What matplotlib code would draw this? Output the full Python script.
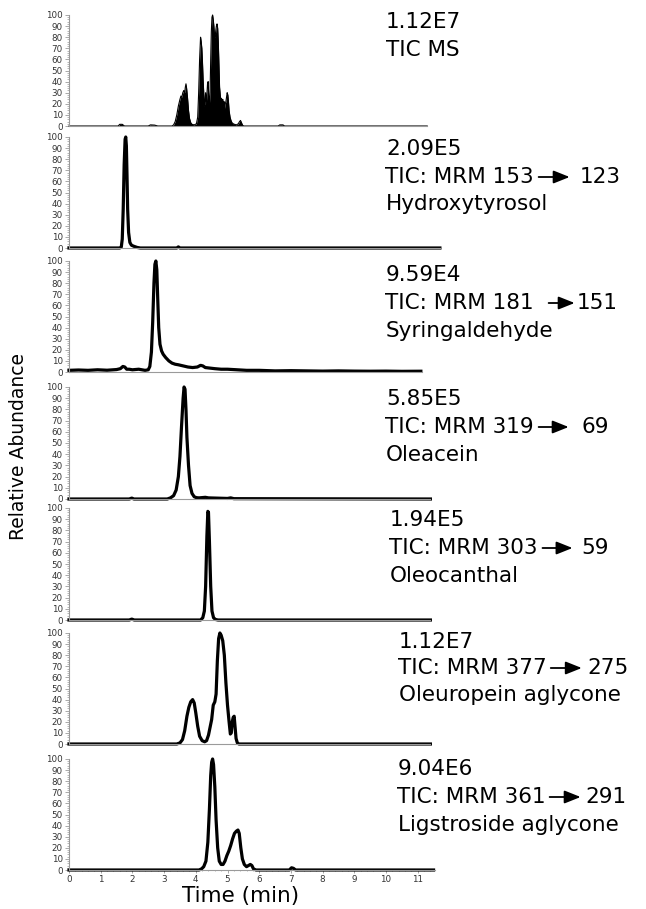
import matplotlib
matplotlib.use("Agg")
import matplotlib.pyplot as plt
from matplotlib.ticker import MultipleLocator

# ---- chromatogram data (time in min, relative abundance %) ----
t_tic = [0, 1.55, 1.6, 1.68, 1.75, 2.5, 2.57, 2.7, 2.8, 3.25, 3.3, 3.35, 3.4, 3.45, 3.5, 3.53, 3.56,
         3.59, 3.62, 3.65, 3.67, 3.69, 3.71, 3.74, 3.77, 3.8, 3.84, 3.88, 3.95, 4.02, 4.06, 4.09,
         4.12, 4.15, 4.17, 4.19, 4.21, 4.23, 4.25, 4.27, 4.29, 4.31, 4.33, 4.35, 4.37, 4.39, 4.41,
         4.43, 4.45, 4.47, 4.49, 4.51, 4.53, 4.55, 4.57, 4.59, 4.61, 4.63, 4.65, 4.67, 4.69, 4.71,
         4.73, 4.75, 4.77, 4.79, 4.81, 4.83, 4.85, 4.87, 4.89, 4.91, 4.93, 4.95, 4.97, 4.99, 5.01,
         5.03, 5.05, 5.08, 5.11, 5.14, 5.18, 5.22, 5.28, 5.34, 5.38, 5.41, 5.44, 5.48, 5.52, 6.6,
         6.65, 6.75, 6.8, 11.3]
y_tic = [0, 0, 1.5, 1.5, 0, 0, 1, 0.8, 0, 0, 1, 4, 10, 18, 24, 27, 26,
         30, 32, 30, 35, 38, 34, 25, 14, 7, 3, 1.5, 1, 2, 8, 30,
         60, 80, 76, 70, 58, 42, 30, 18, 22, 30, 20, 28, 38, 40, 25,
         20, 30, 60, 85, 98, 100, 96, 90, 82, 80, 86, 90, 92, 88, 75,
         55, 35, 28, 22, 25, 20, 24, 18, 22, 16, 20, 22, 26, 30, 28,
         22, 14, 8, 5, 3, 2, 1.5, 1, 2, 4, 5, 3, 0.5, 0, 0,
         1, 1, 0, 0]

t_hyd = [0, 1.6, 1.65, 1.68, 1.71, 1.74, 1.77, 1.79, 1.81, 1.83, 1.85, 1.88, 1.92, 1.97, 2.05,
         2.15, 2.25, 3.4, 3.45, 3.5, 11.7]
y_hyd = [0, 0, 1, 8, 35, 75, 98, 100, 92, 65, 35, 14, 5, 2.5, 1.5,
         0.5, 0, 0, 1, 0, 0]

t_syr = [0, 0.3, 0.6, 0.9, 1.2, 1.5, 1.62, 1.7, 1.76, 1.82, 1.9, 2.0, 2.2, 2.4, 2.5, 2.55, 2.6,
         2.64, 2.68, 2.71, 2.74, 2.77, 2.8, 2.83, 2.87, 2.92, 2.97, 3.05, 3.15, 3.25, 3.35, 3.45,
         3.6, 3.75, 3.9, 4.05, 4.15, 4.22, 4.3, 4.45, 4.6, 4.8, 5.0, 5.3, 5.6, 6.0, 6.5, 7.0, 7.5,
         8.0, 8.5, 9.0, 9.5, 10.0, 10.5, 11.1]
y_syr = [1.5, 1.8, 1.5, 2.0, 1.6, 2.2, 3, 5, 4.5, 2.5, 2.5, 2, 2.5, 1.5, 2, 5, 18,
         45, 80, 97, 100, 92, 65, 40, 25, 19, 16, 13, 10, 8, 7, 6.5,
         5.5, 4.5, 4, 4.5, 6, 5.5, 4, 3.5, 3, 2.5, 2.5, 2, 1.5, 1.5, 1, 1.2, 1,
         0.8, 1, 0.8, 0.7, 0.8, 0.6, 0.7]

t_olc = [0, 1.9, 1.98, 2.05, 3.1, 3.2, 3.3, 3.38, 3.45, 3.5, 3.55, 3.6, 3.63, 3.66, 3.69, 3.72,
         3.77, 3.82, 3.88, 3.95, 4.02, 4.1, 4.3, 4.4, 5.0, 5.1, 5.2, 11.4]
y_olc = [0, 0, 0.8, 0, 0, 1, 3, 8, 20, 38, 65, 90, 100, 98, 80, 55,
         30, 12, 5, 2, 1.2, 1, 1.5, 1, 0.5, 1, 0.3, 0]

t_ocn = [0, 1.9, 1.98, 2.06, 4.15, 4.22, 4.27, 4.31, 4.35, 4.38, 4.4, 4.43, 4.47, 4.51, 4.56,
         4.62, 4.7, 5.0, 11.4]
y_ocn = [0, 0, 0.8, 0, 0, 2, 8, 30, 75, 97, 96, 70, 30, 8, 2,
         0.5, 0, 0, 0]

t_ole = [0, 3.4, 3.5, 3.58, 3.65, 3.72, 3.78, 3.84, 3.9, 3.95, 4.0, 4.06, 4.12, 4.2, 4.28, 4.34,
         4.4, 4.45, 4.5, 4.55, 4.6, 4.64, 4.68, 4.72, 4.76, 4.8, 4.85, 4.9, 4.95, 5.0, 5.05, 5.09,
         5.12, 5.15, 5.18, 5.21, 5.24, 5.27, 5.31, 5.36, 5.45, 11.4]
y_ole = [0, 0, 1, 4, 12, 25, 33, 38, 40, 37, 28, 16, 7, 3, 2, 3,
         8, 15, 22, 35, 38, 45, 75, 95, 100, 98, 93, 80, 55, 35, 20, 9,
         10, 20, 24, 25, 15, 5, 1, 0, 0, 0]

t_lig = [0, 4.1, 4.18, 4.25, 4.32, 4.38, 4.43, 4.47, 4.5, 4.53, 4.56, 4.6, 4.64, 4.69, 4.74, 4.8,
         4.86, 4.92, 4.98, 5.04, 5.1, 5.16, 5.22, 5.28, 5.33, 5.37, 5.42, 5.47, 5.53, 5.6, 5.66,
         5.72, 5.77, 5.82, 5.9, 6.0, 6.95, 7.02, 7.08, 7.15, 11.5]
y_lig = [0, 0, 1, 3, 8, 25, 55, 85, 97, 100, 95, 75, 45, 20, 8, 5,
         5, 8, 13, 17, 22, 28, 33, 35, 36, 33, 20, 10, 5, 3, 4,
         5, 4, 1, 0, 0, 0, 2, 1.5, 0, 0]

traces = [(t_tic, y_tic), (t_hyd, y_hyd), (t_syr, y_syr), (t_olc, y_olc),
          (t_ocn, y_ocn), (t_ole, y_ole), (t_lig, y_lig)]

amounts = ["1.12E7", "2.09E5", "9.59E4", "5.85E5", "1.94E5", "1.12E7", "9.04E6"]
transitions = [None, ("153", "123"), ("181", "151"), ("319", "69"), ("303", "59"),
               ("377", "275"), ("361", "291")]
names = ["TIC MS", "Hydroxytyrosol", "Syringaldehyde", "Oleacein", "Oleocanthal",
         "Oleuropein aglycone", "Ligstroside aglycone"]

# ---- layout (pixels) ----
W, H = 646, 909
X0 = 69            # pixel of t = 0
PPM = 31.7         # pixels per minute
tops = [15, 137, 261, 387, 508, 633, 759]
bottoms = [126, 248, 372, 499, 620, 744, 870]
rights = [427, 440, 422, 430, 430, 430, 435]
text_x = [386, 386, 386, 386, 390, 399, 398]
text_y = [[22, 50], [149, 177, 204], [275, 303, 331], [399, 427, 455],
          [520, 548, 576], [642, 668, 695], [769, 797, 825]]
arrow_gap = [None, (5, 31, 10), (15, 26, 2), (5, 30, 13), (5, 30, 9), (4, 31, 6), (4, 31, 5)]


def fx(px):
    return px / W


def fy(py):
    return 1 - py / H


fig = plt.figure(figsize=(W / 100, H / 100), dpi=100)
fig.patch.set_facecolor("white")

tick_col = "#333333"
spine_col = "#9a9a9a"
txt_kw = dict(fontsize=15.5, family="DejaVu Sans", color="black", va="center", ha="left")

for i, (t, y) in enumerate(traces):
    ax = fig.add_axes([fx(X0), fy(bottoms[i]), fx(rights[i]) - fx(X0),
                       (bottoms[i] - tops[i]) / H])
    xmax = (rights[i] - X0) / PPM
    if i == 0:
        ax.fill_between(t, y, 0, color="black", lw=0, clip_on=False)
        ax.plot(t, y, color="black", lw=0.8, clip_on=False)
    else:
        ax.plot(t, y, color="black", lw=2.3, clip_on=False, solid_joinstyle="round")
    ax.set_xlim(0, xmax)
    ax.set_ylim(0, 100)
    for s in ("top", "right"):
        ax.spines[s].set_visible(False)
    for s in ("left", "bottom"):
        ax.spines[s].set_color(spine_col)
        ax.spines[s].set_linewidth(0.8)
    ax.yaxis.set_major_locator(MultipleLocator(10))
    ax.yaxis.set_minor_locator(MultipleLocator(2))
    ax.tick_params(axis="y", which="major", length=3, width=0.6, color=spine_col,
                   labelsize=6.3, labelcolor=tick_col, pad=1.5)
    ax.tick_params(axis="y", which="minor", length=1.5, width=0.5, color=spine_col)
    if i == len(traces) - 1:
        ax.xaxis.set_major_locator(MultipleLocator(1))
        ax.xaxis.set_minor_locator(MultipleLocator(0.2))
        ax.tick_params(axis="x", which="major", length=2, width=0.6, color=spine_col,
                       labelsize=6.3, labelcolor=tick_col, pad=1.5)
        ax.tick_params(axis="x", which="minor", length=1, width=0.5, color=spine_col)
    else:
        ax.set_xticks([])

    # right-hand labels
    ys = text_y[i]
    fig.text(fx(text_x[i]), fy(ys[0]), amounts[i], **txt_kw)
    if transitions[i] is None:
        fig.text(fx(text_x[i]), fy(ys[1]), names[i], **txt_kw)
        continue
    parent, product = transitions[i]
    lead = fig.text(fx(text_x[i] - 1), fy(ys[1]), "TIC: MRM " + parent, **txt_kw)
    fig.text(fx(text_x[i]), fy(ys[2]), names[i], **txt_kw)
    fig.canvas.draw()
    bb = lead.get_window_extent()
    g1, ln, g2 = arrow_gap[i]
    ax0 = bb.x1 + g1
    ypix = H - ys[1]
    fig.add_artist(plt.Annotation("", xy=(ax0 + ln, ypix), xytext=(ax0, ypix),
                                  xycoords="figure pixels", textcoords="figure pixels",
                                  arrowprops=dict(arrowstyle="-|>,head_length=0.7,head_width=0.28",
                                                  color="black", lw=1.3, shrinkA=0, shrinkB=0,
                                                  mutation_scale=14)))
    fig.text(fx(ax0 + ln + g2), fy(ys[1]), product, **txt_kw)

fig.text(fx(19), fy(447), "Relative Abundance", rotation=90, fontsize=13.5,
         family="DejaVu Sans", va="center", ha="center")
fig.text(fx(241), fy(896), "Time (min)", fontsize=15.5, family="DejaVu Sans",
         va="center", ha="center")

fig.savefig("out.png", dpi=100)
